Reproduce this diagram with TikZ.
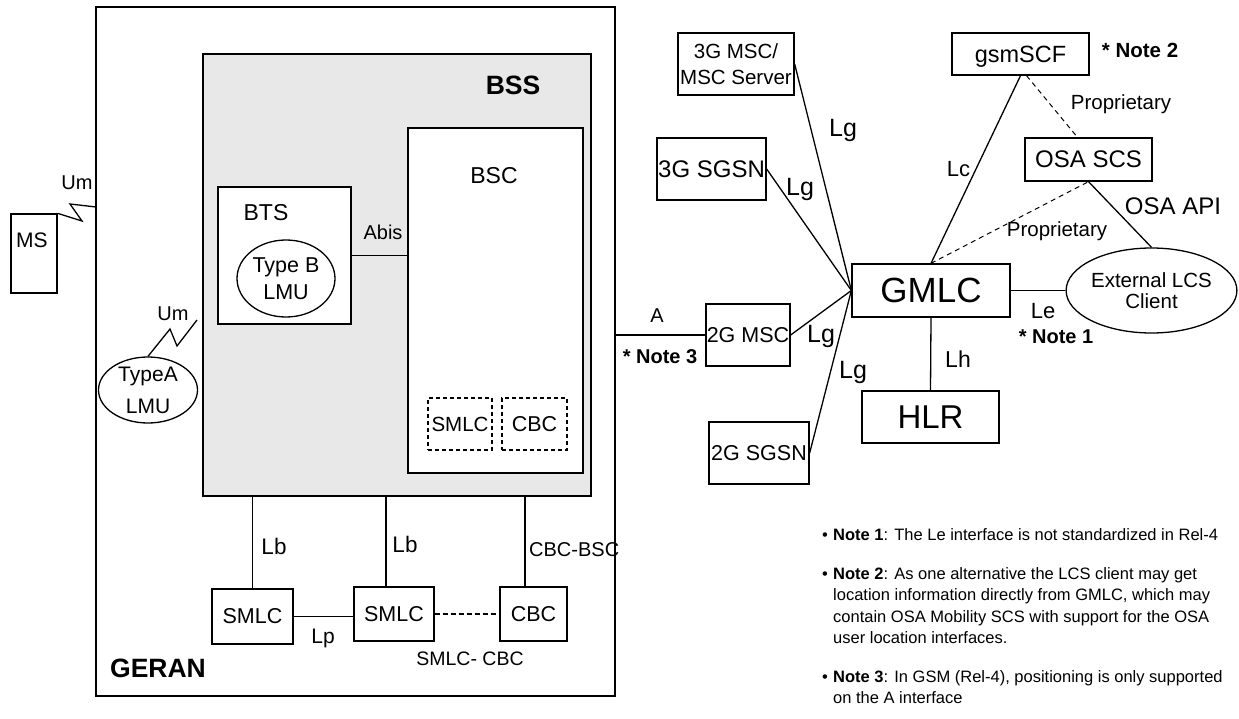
\documentclass[tikz,border=0pt]{standalone}
\usepackage{fontspec}
\setmainfont{Liberation Sans}
\usetikzlibrary{shapes.geometric,positioning}
\definecolor{BssGray}{HTML}{E8E8E8}
\newcommand{\fsz}[2]{\fontsize{#1}{#2}\selectfont}

\begin{document}
\begin{tikzpicture}[x=1pt, y=-1pt,
  netbox/.style={draw, line width=1.3pt, fill=white, inner sep=0pt, align=center},
  lmu/.style={netbox, ellipse},
  dashbox/.style={netbox, dash pattern=on 4pt off 3pt},
  link/.style={line width=1.3pt},
  proplink/.style={line width=1pt, dash pattern=on 5pt off 4pt},
  lbl/.style={inner sep=0pt, anchor=base},
  notetext/.style={inner sep=0pt, anchor=north west, align=left, font=\fsz{16.5}{21.5}},
  bullet/.style={inner sep=0pt, anchor=base west, font=\fsz{16.5}{21.5}}
]
\useasboundingbox (0,0) rectangle (1239,719);

\node[netbox, fill=none, minimum width=519, minimum height=689] (geran) at (355.5,351.5) {};
\node[netbox, fill=BssGray, minimum width=388, minimum height=442] (bss) at (397,275) {};
\node[lbl, font=\bfseries\fsz{26.5}{30}] at (513,95) {BSS};
\node[lbl, font=\bfseries\fsz{26.5}{30}] at (158,677) {GERAN};

\node[netbox, minimum width=133, minimum height=137] (bts) at (284.5,255.5) {};
\node[lbl, font=\fsz{23}{26}] at (266,221) {BTS};
\node[lmu, minimum width=98, minimum height=77, font=\fsz{21.5}{27}] (lmub) at (286,278.5) {Type B\\LMU};

\node[netbox, minimum width=175, minimum height=345] (bsc) at (495.5,300.5) {};
\node[lbl, font=\fsz{23}{26}] at (494,184) {BSC};
\node[dashbox, minimum width=64, minimum height=52, font=\fsz{20.5}{24}] (smlcin) at (460,424) {SMLC};
\node[dashbox, minimum width=65, minimum height=52, font=\fsz{21.5}{24}] (cbcin) at (534.5,424) {CBC};

\draw[link] (bts.east) -- (bts.east -| bsc.west);
\node[lbl, font=\fsz{20}{22}] at (383,240) {Abis};

\node[netbox, minimum width=46, minimum height=79] (ms) at (34,253.5) {};
\node[lbl, font=\fsz{21}{24}] at (32,248) {MS};
\coordinate (umms) at (96,207);
\draw[link] (ms.north east) -- (82,221) -- (70,204) -- (umms);
\node[lbl, font=\fsz{20}{22}] at (77,190) {Um};

\node[lmu, minimum width=99, minimum height=66, font=\fsz{21}{32}] (lmua) at (148,390) {TypeA\\LMU};
\coordinate (umlmu) at (197,320);
\draw[link] (lmua.north) -- (170,329) -- (177,346) -- (umlmu);
\node[lbl, font=\fsz{20}{22}] at (173,320) {Um};

\node[netbox, minimum width=81, minimum height=55, font=\fsz{21.5}{25}] (smlca) at (252.5,616.5) {SMLC};
\node[netbox, minimum width=80, minimum height=54, font=\fsz{21.5}{25}] (smlcb) at (394,614) {SMLC};
\node[netbox, minimum width=67, minimum height=54, font=\fsz{21.5}{25}] (cbc) at (533.5,614) {CBC};
\draw[link] (smlca.north) -- (smlca.north |- bss.south);
\draw[link] ([xshift=-8]smlcb.north) -- ([xshift=-8]smlcb.north |- bss.south);
\draw[link] ([xshift=-8.5]cbc.north) -- ([xshift=-8.5]cbc.north |- bss.south);
\draw[link] (smlca.east) -- (smlca.east -| smlcb.west);
\draw[link, dash pattern=on 5pt off 3pt] (smlcb.east) -- (cbc.west);
\node[lbl, font=\fsz{22.5}{25}] at (274,554) {Lb};
\node[lbl, font=\fsz{22.5}{25}] at (405,552) {Lb};
\node[lbl, anchor=base west, font=\fsz{20}{22}] at (529,556) {CBC-BSC};
\node[lbl, font=\fsz{21}{22}] at (323,643) {Lp};
\node[lbl, font=\fsz{19.5}{22}] at (470,665) {SMLC- CBC};

\node[netbox, minimum width=116, minimum height=62, font=\fsz{20.5}{26.5}] (msc3g) at (736,64) {3G MSC/\\MSC Server};
\node[netbox, minimum width=109, minimum height=62, font=\fsz{24}{28}] (sgsn3g) at (711.5,169) {3G SGSN};
\node[netbox, minimum width=84, minimum height=62, font=\fsz{21.5}{25}] (msc2g) at (748,335) {2G MSC};
\node[netbox, minimum width=100, minimum height=62, font=\fsz{21.5}{25}] (sgsn2g) at (759,453) {2G SGSN};
\node[netbox, minimum width=137, minimum height=42, text depth=0pt, font=\fsz{23.5}{27}] (gsmscf) at (1020.5,54) {gsmSCF};
\node[netbox, minimum width=127, minimum height=43, font=\fsz{24}{27}] (osascs) at (1088.5,159.5) {OSA SCS};
\node[netbox, minimum width=158, minimum height=53, font=\fsz{35}{40}] (gmlc) at (931,290.5) {GMLC};
\node[netbox, minimum width=137, minimum height=52, font=\fsz{33}{38}] (hlr) at (930.5,417) {HLR};
\node[lmu, minimum width=169, minimum height=85, font=\fsz{20.5}{20.5}] (lcsclient) at (1151.5,290.5) {External LCS\\Client};

\draw[link] (geran.east |- msc2g.west) -- (msc2g.west);
\draw[link] (msc3g.east) -- (gmlc.west);
\draw[link] (sgsn3g.east) -- (gmlc.west);
\draw[link] (msc2g.east) -- (gmlc.west);
\draw[link] (sgsn2g.east) -- (gmlc.west);
\draw[link] (gsmscf.south) -- (gmlc.north);
\draw[proplink] ([xshift=6]gsmscf.south) -- ([xshift=-11]osascs.north);
\draw[proplink] (gmlc.north) -- (osascs.south);
\draw[link] (osascs.south) -- (lcsclient.north);
\draw[link] (gmlc.east) -- (lcsclient.west);
\draw[link] (gmlc.south) -- (hlr.north);

\node[lbl, font=\fsz{20}{22}] at (657,322) {A};
\node[lbl, font=\bfseries\fsz{20}{22}] at (660,363) {* Note 3};
\node[lbl, font=\fsz{25}{27}] at (843,137) {Lg};
\node[lbl, font=\fsz{25}{27}] at (800,196) {Lg};
\node[lbl, font=\fsz{25}{27}] at (821,342) {Lg};
\node[lbl, font=\fsz{25}{27}] at (853,378) {Lg};
\node[lbl, font=\fsz{23}{25}] at (958,367) {Lh};
\node[lbl, font=\fsz{22}{24}] at (958.5,177) {Lc};
\node[lbl, font=\fsz{22}{24}] at (1043,318) {Le};
\node[lbl, font=\bfseries\fsz{20}{22}] at (1056,343) {* Note 1};
\node[lbl, font=\bfseries\fsz{20.5}{22}] at (1140,58) {* Note 2};
\node[lbl, font=\fsz{20.5}{23}] at (1121,110) {Proprietary};
\node[lbl, font=\fsz{20.5}{23}] at (1057,237) {Proprietary};
\node[lbl, font=\fsz{24}{26}] at (1173,215) {OSA API};

\node[bullet] at (822,540) {•};
\node[notetext] (noteone) at (833,528) {\textbf{Note 1}: The Le interface is not standardized in Rel-4};
\node[bullet] at (822,579) {•};
\node[notetext] (notetwo) at (833,567) {\textbf{Note 2}: As one alternative the LCS client may get\\location information directly from GMLC, which may\\contain OSA Mobility SCS with support for the OSA\\user location interfaces.};
\node[bullet] at (822,682) {•};
\node[notetext] (notethree) at (833,670) {\textbf{Note 3}: In GSM (Rel-4), positioning is only supported\\on the A interface};
\end{tikzpicture}
\end{document}
